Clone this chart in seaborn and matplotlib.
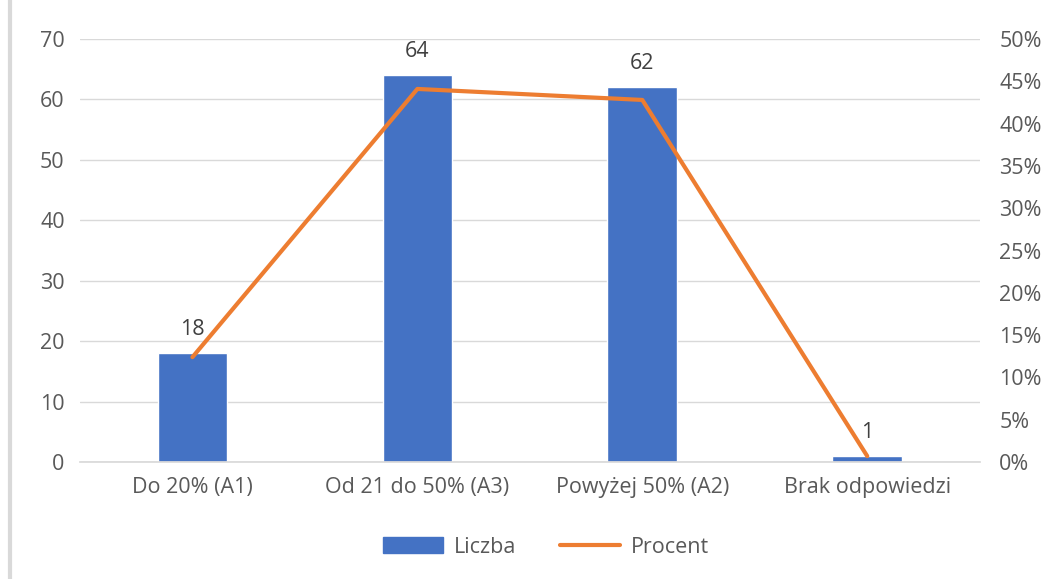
import matplotlib
matplotlib.use("Agg")
import matplotlib.pyplot as plt
import matplotlib.ticker as mtick
from matplotlib.lines import Line2D
from matplotlib.patches import Patch
import pandas as pd
import seaborn as sns

# -----------------------------
# Data
# -----------------------------
categories = ["Do 20% (A1)", "Od 21 do 50% (A3)", "Powyżej 50% (A2)", "Brak odpowiedzi"]
liczba = [18, 64, 62, 1]
procent = [0.124, 0.441, 0.428, 0.007]

BLUE = "#4472C4"
ORANGE = "#ED7D31"
TEXT = "#595959"
GRID = "#D9D9D9"

sns.set_theme(style="white")
plt.rcParams["font.family"] = ["Open Sans", "DejaVu Sans"]

df = pd.DataFrame({"Kategoria": categories, "Liczba": liczba, "Procent": procent})

fig = plt.figure(figsize=(10.58, 5.79), dpi=100)
ax = fig.add_axes([0.0756, 0.202, 0.8504, 0.7306])

sns.barplot(data=df, x="Kategoria", y="Liczba", color=BLUE, width=0.31,
            saturation=1, ax=ax, zorder=2)
ax.set_ylim(0, 70)
ax.set_yticks(range(0, 71, 10))
ax.set_xlim(-0.5, 3.5)
ax.yaxis.grid(True, color=GRID, linewidth=1)
ax.set_axisbelow(True)
for s in ["top", "right", "left"]:
    ax.spines[s].set_visible(False)
ax.spines["bottom"].set_color(GRID)
ax.set_xlabel("")
ax.set_ylabel("")
ax.tick_params(axis="both", length=0, labelsize=15.5, colors=TEXT)
ax.tick_params(axis="x", pad=11)
ax.tick_params(axis="y", pad=11)

for i, v in enumerate(liczba):
    ax.text(i, v + 2.2, str(v), ha="center", va="bottom", fontsize=15.5, color="#404040")

ax2 = ax.twinx()
sns.lineplot(x=list(range(len(categories))), y=procent, color=ORANGE, linewidth=3,
             ax=ax2, zorder=3)
ax2.set_ylim(0, 0.5)
ax2.set_yticks([i * 0.05 for i in range(11)])
ax2.yaxis.set_major_formatter(mtick.PercentFormatter(1.0, decimals=0))
ax2.tick_params(axis="y", length=0, labelsize=15.5, colors=TEXT, pad=14)
for s in ax2.spines.values():
    s.set_visible(False)
ax2.set_xlim(-0.5, 3.5)

handles = [Patch(color=BLUE, label="Liczba"),
           Line2D([0], [0], color=ORANGE, linewidth=3, label="Procent")]
fig.legend(handles=handles, loc="center", bbox_to_anchor=(0.516, 0.055), ncol=2,
           frameon=False, fontsize=15.5, labelcolor=TEXT, handlelength=2.8,
           columnspacing=2.0, handletextpad=0.5, handleheight=0.8)

# left border line of the chart frame
fig.add_artist(Line2D([0.0095, 0.0095], [0, 1], color=GRID, linewidth=3,
                      transform=fig.transFigure))

fig.savefig("out.png", dpi=100)
